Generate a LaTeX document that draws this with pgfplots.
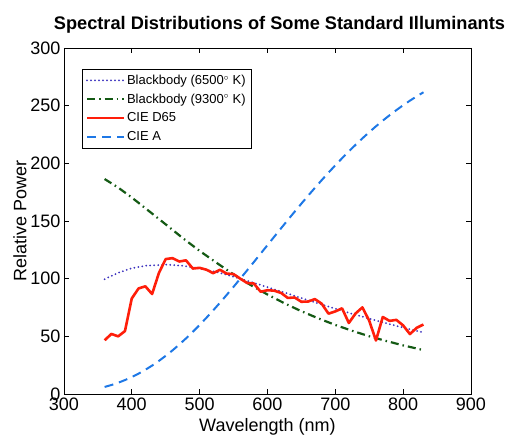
\documentclass[border=0pt]{standalone}
\usepackage{pgfplots}
\pgfplotsset{compat=1.18}
\usepackage{fontspec}
\setmainfont{Liberation Sans}
\definecolor{bbA}{RGB}{60,50,190}
\definecolor{bbB}{RGB}{20,90,20}
\definecolor{dsf}{RGB}{255,30,10}
\definecolor{cieA}{RGB}{30,120,230}
\begin{document}
\begin{tikzpicture}
\begin{axis}[
  scale only axis, width=407pt, height=346pt,
  xmin=300, xmax=900, ymin=0, ymax=300,
  xtick={300,400,...,900}, ytick={0,50,...,300},
  tick align=inside, major tick length=5pt,
  tick style={black, line width=0.6pt},
  axis line style={line width=0.8pt},
  /pgf/number format/assume math mode=true,
  /pgf/number format/set thousands separator={},
  tick label style={font=\fontsize{18}{18}\selectfont},
  label style={font=\fontsize{18}{18}\selectfont},
  xlabel={Wavelength (nm)}, ylabel={Relative Power},
  xlabel style={yshift=-1pt}, ylabel style={yshift=-3pt},
  title={Spectral Distributions of Some Standard Illuminants},
  title style={font=\fontsize{18.2}{18.2}\selectfont\bfseries, yshift=5pt, xshift=12pt},
  legend style={at={(rel axis cs:0.044,0.94)}, anchor=north west,
    font=\fontsize{13}{15}\selectfont, draw=black,
    inner sep=4pt, row sep=4pt, cells={anchor=west}},
  legend cell align=left,
  legend image code/.code={\draw[#1] (0cm,0cm) -- (1.3cm,0cm);},
  legend image post style={line width=2pt},
]
\addplot[color=bbA, line width=2pt, line cap=round, dash pattern=on 0pt off 4pt] coordinates {
(360,99.6)(380,105.1)(400,109.0)(420,111.2)(450,112.2)(475,111.2)(500,108.8)(525,105.8)(550,101.7)(575,97.3)(600,92.7)(625,88.0)(650,83.2)(675,78.5)(700,74.0)(725,69.5)(750,65.4)(775,61.4)(800,57.6)(830,53.3)};
\addlegendentry{Blackbody (6500$^{\circ}$ K)}
\addplot[color=bbB, line width=2.2pt, dash pattern=on 8pt off 4pt on 1.5pt off 4pt] coordinates {
(360,186.4)(380,179.0)(400,170.4)(425,158.8)(450,147.1)(475,135.3)(500,124.1)(525,113.8)(550,103.7)(575,94.6)(600,86.3)(625,78.7)(650,71.8)(675,65.6)(700,59.9)(725,54.8)(750,50.1)(775,46.0)(800,42.2)(830,38.1)};
\addlegendentry{Blackbody (9300$^{\circ}$ K)}
\addplot[color=dsf, line width=2.6pt, line join=round] coordinates {
(360,46.6)(370,52.1)(380,50.0)(390,54.6)(400,82.8)(410,91.5)(420,93.4)(430,86.7)(440,104.9)(450,117.0)(460,117.8)(470,114.9)(480,115.9)(490,108.8)(500,109.4)(510,107.8)(520,104.8)(530,107.7)(540,104.4)(550,104.0)(560,100.0)(570,96.3)(580,95.8)(590,88.7)(600,90.0)(610,89.6)(620,87.7)(630,83.3)(640,83.7)(650,80.0)(660,80.2)(670,82.3)(680,78.3)(690,69.7)(700,71.6)(710,74.3)(720,61.6)(730,69.9)(740,75.1)(750,63.6)(760,46.4)(770,66.8)(780,63.4)(790,64.3)(800,59.5)(810,52.0)(820,57.4)(830,60.3)};
\addlegendentry{CIE D65}
\addplot[color=cieA, line width=2pt, dash pattern=on 9pt off 6pt] coordinates {
(360,6.14)(370,7.82)(380,9.80)(390,12.09)(400,14.71)(410,17.68)(420,21.00)(430,24.67)(440,28.70)(450,33.09)(460,37.81)(470,42.87)(480,48.24)(490,53.91)(500,59.86)(510,66.06)(520,72.50)(530,79.13)(540,85.95)(550,92.91)(560,100.0)(570,107.18)(580,114.44)(590,121.73)(600,129.04)(610,136.35)(620,143.62)(630,150.84)(640,157.98)(650,165.03)(660,171.96)(670,178.77)(680,185.43)(690,191.93)(700,198.26)(710,204.41)(720,210.37)(730,216.12)(740,221.67)(750,227.00)(760,232.12)(770,237.01)(780,241.68)(790,246.12)(800,250.33)(810,254.32)(820,258.08)(830,261.62)};
\addlegendentry{CIE A}
\coordinate (bl) at (rel axis cs:-0.157,-0.1156);
\coordinate (tr) at (rel axis cs:1.091,1.1387);
\end{axis}
\pgfresetboundingbox
\path (bl) rectangle (tr);
\end{tikzpicture}
\end{document}
